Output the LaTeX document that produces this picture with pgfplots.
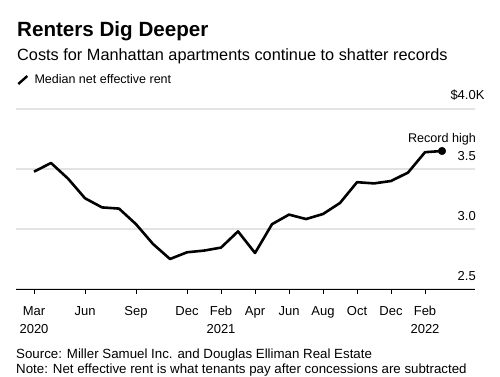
\documentclass[border=0pt]{standalone}
\usepackage{pgfplots}
\pgfplotsset{compat=1.18}
\usepackage{fontspec}
\setmainfont{Liberation Sans}
\definecolor{gridc}{HTML}{E3E3E3}
\begin{document}
\begin{tikzpicture}[x=1pt,y=1pt]
\useasboundingbox (0,0) rectangle (500,377);
\node[anchor=base west, inner sep=0pt] at (17,340) {\fontsize{20.6}{24}\selectfont\bfseries Renters Dig Deeper};
\node[anchor=base west, inner sep=0pt] at (17,316) {\fontsize{16.3}{19}\selectfont Costs for Manhattan apartments continue to shatter records};
\node[anchor=base west, inner sep=0pt] at (16,18) {\fontsize{13.3}{16}\selectfont Source: Miller Samuel Inc. and Douglas Elliman Real Estate};
\node[anchor=base west, inner sep=0pt] at (16,4) {\fontsize{13.3}{16}\selectfont Note: Net effective rent is what tenants pay after concessions are subtracted};
\begin{axis}[
  at={(16pt,88pt)}, anchor=south west,
  scale only axis, width=459pt, height=180pt,
  xmin=-1.06, xmax=25.94, ymin=2.5, ymax=4.0,
  axis x line*=bottom, axis y line*=right,
  y axis line style={draw=none},
  x axis line style={black, line width=0.9pt},
  xtick={0,3,6,9,11,13,15,17,19,21,23},
  xticklabels={Mar\\2020, Jun, Sep, Dec, Feb\\2021, Apr, Jun, Aug, Oct, Dec, Feb\\2022},
  xticklabel style={align=center, font=\fontsize{13}{18}\selectfont, anchor=north, inner sep=0pt, yshift=-12pt},
  tick align=outside, major tick length=5pt,
  xtick style={black, line width=0.9pt},
  ytick={2.5,3,3.5,4},
  yticklabels={2.5,3.0,3.5,\$4.0\rlap{K}},
  ytick style={draw=none},
  yticklabel style={anchor=south east, inner sep=0pt, font=\fontsize{13}{16}\selectfont, yshift=8pt, xshift=-4pt},
  ymajorgrids, grid style={gridc, line width=1.4pt},
  legend style={at={(0.002,1.161)}, anchor=west, draw=none, fill=none, inner sep=0pt, column sep=4pt, font=\fontsize{12.5}{15}\selectfont},
  legend cell align=left,
  clip=false,
]
\addplot[black, line width=2.6pt, line join=round,
  legend image code/.code={\draw[black, line width=2.4pt] (0pt,-4pt) -- (9pt,4pt);}]
coordinates {
(0,3.478) (1,3.55) (2,3.42) (3,3.256) (4,3.18) (5,3.17) (6,3.04) (7,2.875) (8,2.75)
(9,2.806) (10,2.82) (11,2.845) (12,2.98) (13,2.80) (14,3.04) (15,3.12) (16,3.083)
(17,3.125) (18,3.217) (19,3.39) (20,3.38) (21,3.40) (22,3.47) (23,3.64) (24,3.65)
};
\addlegendentry{Median net effective rent}
\addplot[black, only marks, mark=*, mark size=3.8pt, forget plot] coordinates {(24,3.65)}
  node[anchor=base, inner sep=0pt, yshift=8pt, font=\fontsize{12.6}{15}\selectfont] {Record high};
\end{axis}
\end{tikzpicture}
\end{document}
